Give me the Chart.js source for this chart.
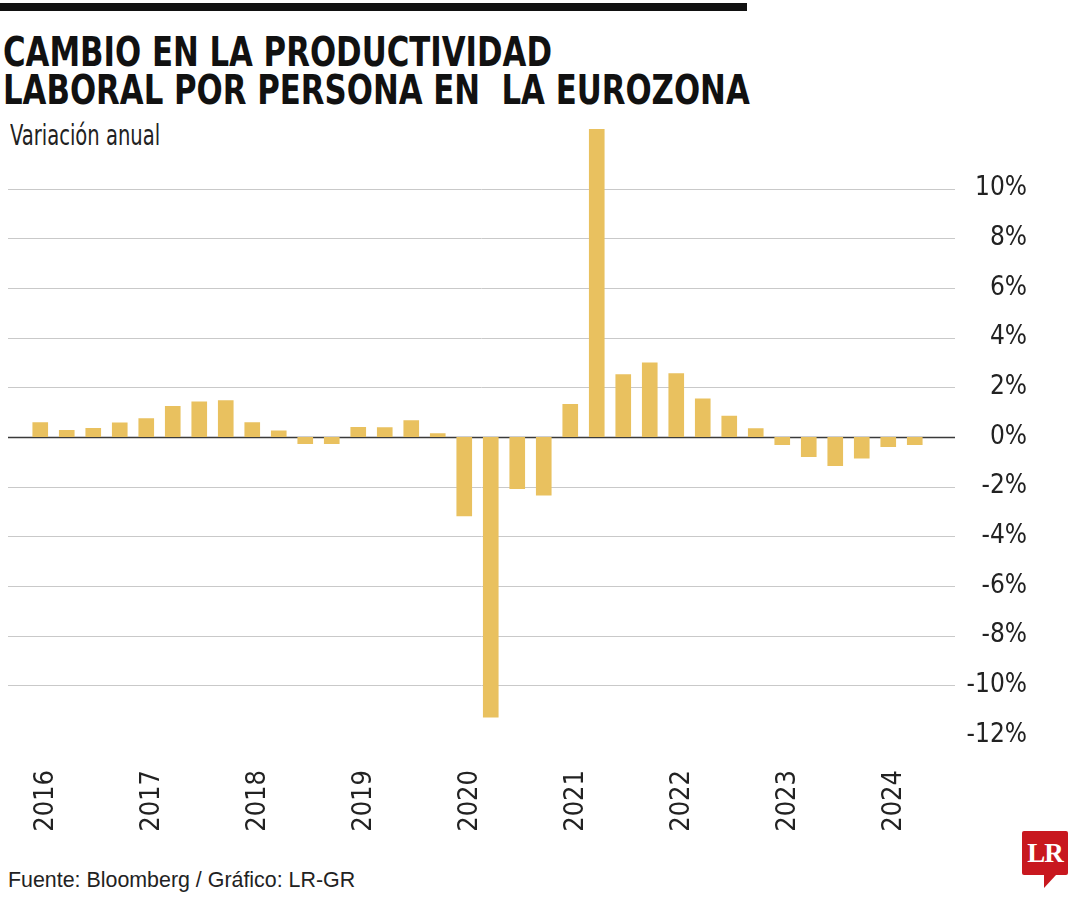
<!DOCTYPE html>
<html>
<head>
<meta charset="utf-8">
<script src="https://cdn.jsdelivr.net/npm/chart.js@4/dist/chart.umd.min.js"></script>
<style>
  html, body { margin: 0; padding: 0; background: #fff; }
  body { width: 1080px; height: 900px; position: relative; overflow: hidden; font-family: "Liberation Sans Narrow", "DejaVu Sans Condensed", sans-serif; color: #111; }
  .topbar { position: absolute; left: 0; top: 3px; width: 747px; height: 8px; background: #111; }
  .title { position: absolute; left: 3px; top: 33px; font-weight: bold; font-size: 41px; line-height: 38px; white-space: pre; color: #111; transform: scaleX(0.835); transform-origin: left top; }
  .subtitle { position: absolute; left: 10px; top: 118px; font-size: 29px; line-height: 34px; color: #222; transform: scaleX(0.75); transform-origin: left top; }
  .source { position: absolute; left: 8px; top: 868px; font-family: "Liberation Sans", sans-serif; font-size: 21.4px; color: #222; }
  .logo { position: absolute; left: 1022px; top: 831px; width: 46px; height: 44px; background: #c8181f; border-radius: 2px; color: #fff; font-family: "Liberation Serif", serif; font-weight: bold; font-size: 27px; line-height: 44px; text-align: center; letter-spacing: -1px; }
  .logo-tail { position: absolute; left: 1044px; top: 875px; width: 0; height: 0; border-left: 0 solid transparent; border-right: 12px solid transparent; border-top: 13px solid #c8181f; }
  #wrap { position: absolute; left: 0; top: 108px; width: 1080px; height: 734px; }
</style>
</head>
<body>
<div class="topbar"></div>
<div class="title">CAMBIO EN LA PRODUCTIVIDAD
LABORAL POR PERSONA EN  LA EUROZONA</div>
<div class="subtitle">Variación anual</div>
<div id="wrap"><canvas id="chart" width="1080" height="734"></canvas></div>
<div class="source">Fuente: Bloomberg / Gráfico: LR-GR</div>
<div class="logo">LR</div>
<div class="logo-tail"></div>
<script>
// Trimestres 2016-T1 .. 2024-T2, sólo el primer trimestre lleva etiqueta
const quarterLabels = ['2016', '', '', '', '2017', '', '', '', '2018', '', '', '', '2019', '', '', '',
    '2020', '', '', '', '2021', '', '', '', '2022', '', '', '', '2023', '', '', '', '2024', ''];

// Variación anual (%)
const productivity = [0.59, 0.28, 0.36, 0.58, 0.76, 1.25, 1.43, 1.48,
    0.59, 0.26, -0.28, -0.28, 0.40, 0.39, 0.67, 0.15,
    -3.19, -11.3, -2.09, -2.36, 1.33, 12.4, 2.53, 3.0,
    2.57, 1.55, 0.86, 0.35, -0.32, -0.81, -1.17, -0.87,
    -0.40, -0.32];

const yTicks = [-12, -10, -8, -6, -4, -2, 0, 2, 4, 6, 8, 10];

const FONT = '"Liberation Sans Narrow", "DejaVu Sans Condensed", sans-serif';

// grid lines run wider than the bars, so draw them by hand from the y scale
const wideGrid = {
    id: 'wideGrid',
    beforeDatasetsDraw(chart) {
        const y = chart.scales.y;
        const ctx = chart.ctx;
        ctx.save();
        yTicks.forEach(v => {
            if (v === -12) return;
            const py = Math.round(y.getPixelForValue(v)) + 0.5;
            ctx.beginPath();
            ctx.moveTo(8, py);
            ctx.lineTo(955, py);
            ctx.strokeStyle = v === 0 ? '#3a3a3a' : '#c9c9c9';
            ctx.lineWidth = v === 0 ? 1.6 : 1;
            ctx.stroke();
        });
        ctx.restore();
    }
};

new Chart(document.getElementById('chart'), {
    type: 'bar',
    data: {
        labels: quarterLabels,
        datasets: [{
            data: productivity,
            backgroundColor: '#e9c15f',
            borderWidth: 0,
            categoryPercentage: 1,
            barPercentage: 0.59
        }]
    },
    options: {
        responsive: false,
        animation: false,
        layout: { padding: { left: 27, right: 53, top: 9, bottom: 0 } },
        plugins: { legend: { display: false }, tooltip: { enabled: false } },
        scales: {
            x: {
                grid: { display: false },
                border: { display: false },
                ticks: {
                    autoSkip: false, minRotation: 90, maxRotation: 90,
                    padding: 27, labelOffset: 6, color: '#222',
                    font: { family: FONT, size: 27 }
                },
                afterFit(s) { s.height = 107; }
            },
            y: {
                position: 'right',
                min: -12, max: 12.5,
                grid: { display: false },
                border: { display: false },
                afterBuildTicks(s) { s.ticks = yTicks.map(v => ({ value: v })); },
                ticks: {
                    crossAlign: 'far',
                    color: '#222',
                    font: { family: FONT, size: 26 },
                    callback: v => v + '%'
                },
                afterFit(s) { s.width = 99; }
            }
        }
    },
    plugins: [wideGrid]
});
</script>
</body>
</html>
